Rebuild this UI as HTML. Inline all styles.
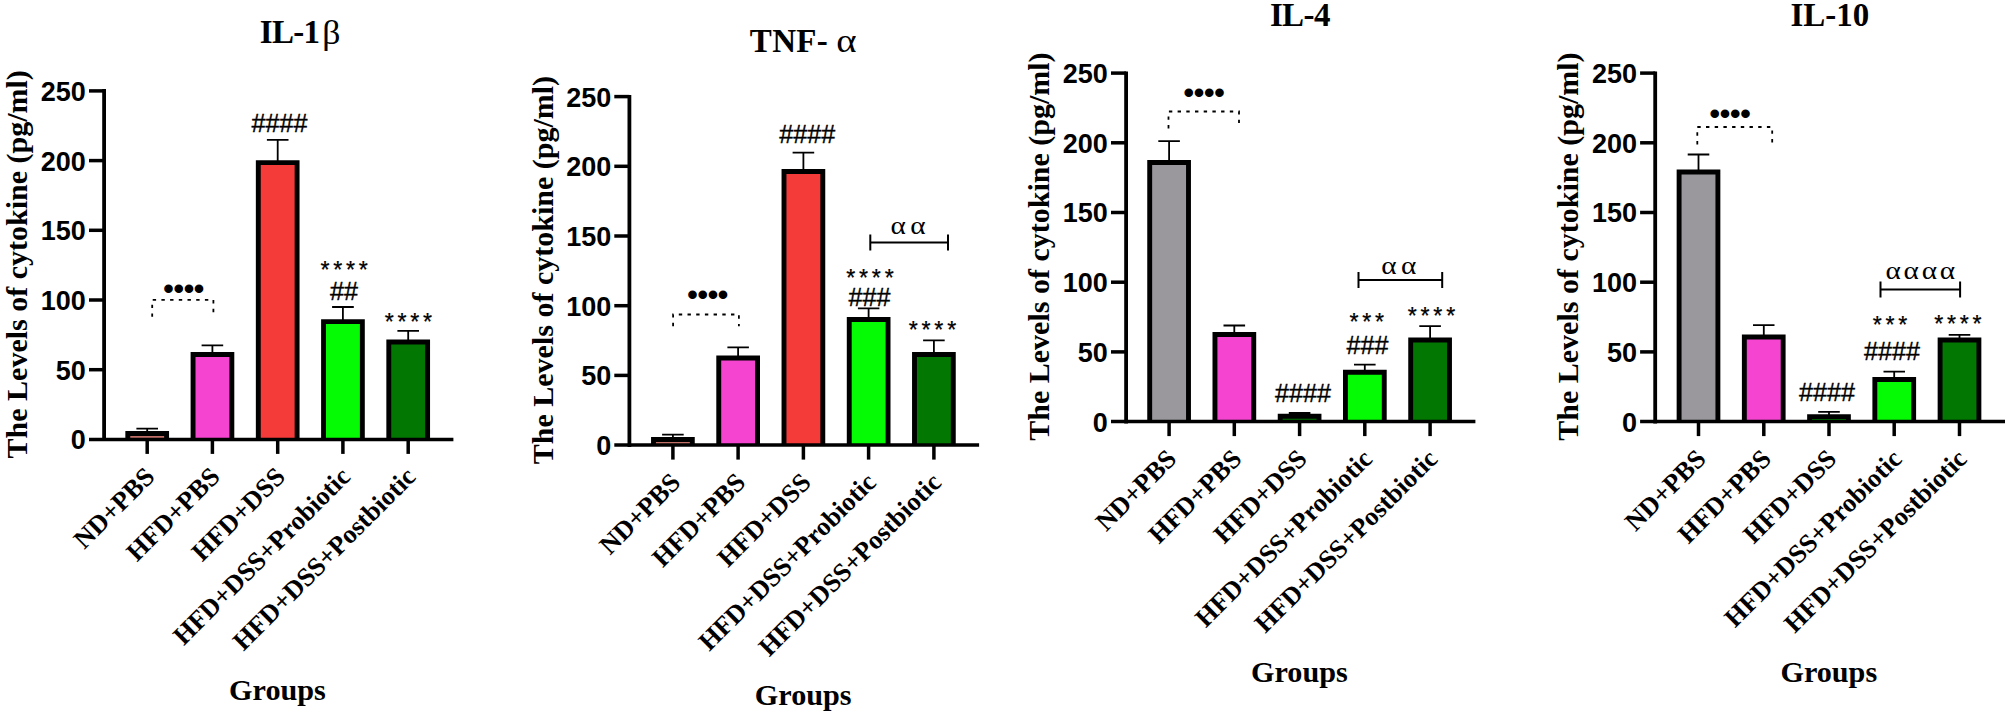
<!DOCTYPE html>
<html><head><meta charset="utf-8"><title>Cytokine levels</title>
<style>
html,body{margin:0;padding:0;background:#fff}
svg{display:block}
text{fill:#000}
.ttl{font:bold 33px "Liberation Serif","DejaVu Serif",serif}
.gk{font-weight:normal}
.it{font-style:italic}
.ylab{font:bold 30px "Liberation Serif","DejaVu Serif",serif}
.grp{font:bold 30.2px "Liberation Serif","DejaVu Serif",serif}
.xlab{font:bold 26.4px "Liberation Serif","DejaVu Serif",serif}
.tick{font:bold 27px "Liberation Sans","DejaVu Sans",sans-serif}
.hash{font:25.2px "Liberation Sans","DejaVu Sans",sans-serif;stroke:#000;stroke-width:.35px}
.star{font:23.2px "Liberation Sans","DejaVu Sans",sans-serif;letter-spacing:3.75px;stroke:#000;stroke-width:.25px}
.alpha{font:24px "Liberation Serif","DejaVu Serif",serif}
.dots{font:bold 30px "Liberation Sans","DejaVu Sans",sans-serif;letter-spacing:-.3px}
.axis{stroke:#000;stroke-width:3.5;fill:none}
.yaxis{stroke:#000;stroke-width:3.8;fill:none}
.bar{stroke:#000;stroke-width:4.9}
.err{stroke:#000;stroke-width:1.8;fill:none}
.br{stroke:#000;stroke-width:2;fill:none}
.dbr{stroke:#000;stroke-width:1.8;fill:none;stroke-dasharray:3.4 5.3}
</style></head>
<body>
<svg width="2007" height="715" viewBox="0 0 2007 715">
<rect width="2007" height="715" fill="#fff"/>
<g class="panel">
<text x="259.8" y="43.4" class="ttl"><tspan textLength="60.3" lengthAdjust="spacing">IL-1</tspan><tspan class="gk" x="322.2" y="44.4" textLength="18.2" lengthAdjust="spacingAndGlyphs">β</tspan></text>
<text transform="translate(27.2,264.3) rotate(-90)" class="ylab" text-anchor="middle">The Levels of cytokine (pg/ml)</text>
<path d="M147.2 432.1V428.6M136.4 428.6H158.0" class="err"/>
<path d="M127.80 439.4V433.55H166.60V439.4" fill="#c26f67" class="bar"/>
<path d="M212.4 353.0V345.3M201.6 345.3H223.2" class="err"/>
<path d="M193.05 439.4V354.45H231.85V439.4" fill="#f545d0" class="bar"/>
<path d="M277.7 161.2V139.9M266.9 139.9H288.5" class="err"/>
<path d="M258.30 439.4V162.65H297.10V439.4" fill="#f53a3a" class="bar"/>
<path d="M342.9 320.2V307.0M332.1 307.0H353.8" class="err"/>
<path d="M323.55 439.4V321.65H362.35V439.4" fill="#04fb04" class="bar"/>
<path d="M408.2 340.5V330.8M397.4 330.8H419.0" class="err"/>
<path d="M388.80 439.4V341.95H427.60V439.4" fill="#027802" class="bar"/>
<path d="M104.1 89.1V441.1" class="yaxis"/>
<path d="M89.0 439.4H453.4" class="axis"/>
<text x="85.9" y="449.3" class="tick" text-anchor="end">0</text>
<path d="M89.0 369.7H104.1" class="axis"/>
<text x="85.9" y="379.6" class="tick" text-anchor="end">50</text>
<path d="M89.0 300.0H104.1" class="axis"/>
<text x="85.9" y="309.9" class="tick" text-anchor="end">100</text>
<path d="M89.0 230.3H104.1" class="axis"/>
<text x="85.9" y="240.2" class="tick" text-anchor="end">150</text>
<path d="M89.0 160.6H104.1" class="axis"/>
<text x="85.9" y="170.5" class="tick" text-anchor="end">200</text>
<path d="M89.0 90.9H104.1" class="axis"/>
<text x="85.9" y="100.8" class="tick" text-anchor="end">250</text>
<path d="M147.2 439.4V453.9" class="axis"/>
<path d="M212.4 439.4V453.9" class="axis"/>
<path d="M277.7 439.4V453.9" class="axis"/>
<path d="M342.9 439.4V453.9" class="axis"/>
<path d="M408.2 439.4V453.9" class="axis"/>
<text transform="translate(156.1,478.2) rotate(-45)" class="xlab" text-anchor="end">ND+PBS</text>
<text transform="translate(221.3,478.2) rotate(-45)" class="xlab" text-anchor="end">HFD+PBS</text>
<text transform="translate(286.6,478.2) rotate(-45)" class="xlab" text-anchor="end">HFD+DSS</text>
<text transform="translate(351.8,478.2) rotate(-45)" class="xlab" text-anchor="end">HFD+DSS+Probiotic</text>
<text transform="translate(417.1,478.2) rotate(-45)" class="xlab" text-anchor="end">HFD+DSS+Postbiotic</text>
<text x="277.5" y="699.6" class="grp" text-anchor="middle">Groups</text>
<text x="183.65" y="299.2" class="dots" text-anchor="middle">••••</text>
<path d="M152.2 316.8V299.9H213.4V312.2" class="dbr"/>
<text x="279.6" y="132.4" class="hash" text-anchor="middle">####</text>
<text x="346.07" y="278.1" class="star" text-anchor="middle">****</text>
<text x="344" y="300" class="hash" text-anchor="middle">##</text>
<text x="410.18" y="329.9" class="star" text-anchor="middle">****</text>
</g>
<g class="panel">
<text x="749.8" y="52" class="ttl"><tspan textLength="86.6" lengthAdjust="spacing">TNF- </tspan><tspan class="gk" x="836.2" y="52.4" style="font-size:34px" textLength="20.3" lengthAdjust="spacingAndGlyphs">α</tspan></text>
<text transform="translate(552.5,270.1) rotate(-90)" class="ylab" text-anchor="middle">The Levels of cytokine (pg/ml)</text>
<path d="M672.9 438.0V434.6M662.1 434.6H683.7" class="err"/>
<path d="M653.50 445.1V439.45H692.30V445.1" fill="#c26f67" class="bar"/>
<path d="M738.1 356.6V347.3M727.4 347.3H748.9" class="err"/>
<path d="M718.75 445.1V358.05H757.55V445.1" fill="#f545d0" class="bar"/>
<path d="M803.4 170.1V152.7M792.6 152.7H814.2" class="err"/>
<path d="M784.00 445.1V171.55H822.80V445.1" fill="#f53a3a" class="bar"/>
<path d="M868.6 318.1V308.4M857.9 308.4H879.4" class="err"/>
<path d="M849.25 445.1V319.55H888.05V445.1" fill="#04fb04" class="bar"/>
<path d="M933.9 353.0V340.4M923.1 340.4H944.7" class="err"/>
<path d="M914.50 445.1V354.45H953.30V445.1" fill="#027802" class="bar"/>
<path d="M629.4 94.9V446.9" class="yaxis"/>
<path d="M614.3 445.1H979.1" class="axis"/>
<text x="611.2" y="455.0" class="tick" text-anchor="end">0</text>
<path d="M614.3 375.4H629.4" class="axis"/>
<text x="611.2" y="385.3" class="tick" text-anchor="end">50</text>
<path d="M614.3 305.7H629.4" class="axis"/>
<text x="611.2" y="315.6" class="tick" text-anchor="end">100</text>
<path d="M614.3 236.0H629.4" class="axis"/>
<text x="611.2" y="245.9" class="tick" text-anchor="end">150</text>
<path d="M614.3 166.3H629.4" class="axis"/>
<text x="611.2" y="176.2" class="tick" text-anchor="end">200</text>
<path d="M614.3 96.6H629.4" class="axis"/>
<text x="611.2" y="106.5" class="tick" text-anchor="end">250</text>
<path d="M672.9 445.1V459.6" class="axis"/>
<path d="M738.1 445.1V459.6" class="axis"/>
<path d="M803.4 445.1V459.6" class="axis"/>
<path d="M868.6 445.1V459.6" class="axis"/>
<path d="M933.9 445.1V459.6" class="axis"/>
<text transform="translate(681.8,483.9) rotate(-45)" class="xlab" text-anchor="end">ND+PBS</text>
<text transform="translate(747.0,483.9) rotate(-45)" class="xlab" text-anchor="end">HFD+PBS</text>
<text transform="translate(812.3,483.9) rotate(-45)" class="xlab" text-anchor="end">HFD+DSS</text>
<text transform="translate(877.5,483.9) rotate(-45)" class="xlab" text-anchor="end">HFD+DSS+Probiotic</text>
<text transform="translate(942.8,483.9) rotate(-45)" class="xlab" text-anchor="end">HFD+DSS+Postbiotic</text>
<text x="803.2" y="705.3" class="grp" text-anchor="middle">Groups</text>
<text x="707.65" y="305.2" class="dots" text-anchor="middle">••••</text>
<path d="M673.1 326.2V314.5H738.9V326.2" class="dbr"/>
<text x="807.2" y="142.5" class="hash" text-anchor="middle">####</text>
<text x="871.88" y="285.7" class="star" text-anchor="middle">****</text>
<text x="869.6" y="305.5" class="hash" text-anchor="middle">###</text>
<text x="934.38" y="338.3" class="star" text-anchor="middle">****</text>
<path d="M870.3 242.5H948M870.3 234.5V250.5M948 234.5V250.5" class="br"/>
<text transform="translate(908.1,234.2) scale(1.22,1.045)" x="1.775" y="0" class="alpha" text-anchor="middle" style="letter-spacing:3.55px">αα</text>
</g>
<g class="panel">
<text x="1269.9" y="26" class="ttl" textLength="60.5" lengthAdjust="spacing">IL-4</text>
<text transform="translate(1049.2,246.6) rotate(-90)" class="ylab" text-anchor="middle">The Levels of cytokine (pg/ml)</text>
<path d="M1169.1 161.0V141.2M1158.3 141.2H1179.9" class="err"/>
<path d="M1149.70 421.6V162.45H1188.50V421.6" fill="#9a989d" class="bar"/>
<path d="M1234.3 333.0V325.5M1223.5 325.5H1245.1" class="err"/>
<path d="M1214.95 421.6V334.45H1253.75V421.6" fill="#f545d0" class="bar"/>
<path d="M1299.6 414.8V413.0M1288.8 413.0H1310.4" class="err"/>
<path d="M1280.20 421.6V416.25H1319.00V421.6" fill="#027802" class="bar"/>
<path d="M1364.8 370.8V364.7M1354.0 364.7H1375.6" class="err"/>
<path d="M1345.45 421.6V372.25H1384.25V421.6" fill="#04fb04" class="bar"/>
<path d="M1430.1 338.5V326.2M1419.3 326.2H1440.9" class="err"/>
<path d="M1410.70 421.6V339.95H1449.50V421.6" fill="#027802" class="bar"/>
<path d="M1126.1 71.4V423.4" class="yaxis"/>
<path d="M1111.0 421.6H1475.4" class="axis"/>
<text x="1107.9" y="431.5" class="tick" text-anchor="end">0</text>
<path d="M1111.0 351.9H1126.1" class="axis"/>
<text x="1107.9" y="361.8" class="tick" text-anchor="end">50</text>
<path d="M1111.0 282.2H1126.1" class="axis"/>
<text x="1107.9" y="292.1" class="tick" text-anchor="end">100</text>
<path d="M1111.0 212.5H1126.1" class="axis"/>
<text x="1107.9" y="222.4" class="tick" text-anchor="end">150</text>
<path d="M1111.0 142.8H1126.1" class="axis"/>
<text x="1107.9" y="152.7" class="tick" text-anchor="end">200</text>
<path d="M1111.0 73.1H1126.1" class="axis"/>
<text x="1107.9" y="83.0" class="tick" text-anchor="end">250</text>
<path d="M1169.1 421.6V436.1" class="axis"/>
<path d="M1234.3 421.6V436.1" class="axis"/>
<path d="M1299.6 421.6V436.1" class="axis"/>
<path d="M1364.8 421.6V436.1" class="axis"/>
<path d="M1430.1 421.6V436.1" class="axis"/>
<text transform="translate(1178.0,460.4) rotate(-45)" class="xlab" text-anchor="end">ND+PBS</text>
<text transform="translate(1243.2,460.4) rotate(-45)" class="xlab" text-anchor="end">HFD+PBS</text>
<text transform="translate(1308.5,460.4) rotate(-45)" class="xlab" text-anchor="end">HFD+DSS</text>
<text transform="translate(1373.8,460.4) rotate(-45)" class="xlab" text-anchor="end">HFD+DSS+Probiotic</text>
<text transform="translate(1439.0,460.4) rotate(-45)" class="xlab" text-anchor="end">HFD+DSS+Postbiotic</text>
<text x="1299.4" y="681.8" class="grp" text-anchor="middle">Groups</text>
<text x="1203.9499999999998" y="103.2" class="dots" text-anchor="middle">••••</text>
<path d="M1168.5 128.5V111.5H1239V124.1" class="dbr"/>
<text x="1303" y="401.8" class="hash" text-anchor="middle">####</text>
<text x="1368.58" y="330.2" class="star" text-anchor="middle">***</text>
<text x="1367.5" y="354.1" class="hash" text-anchor="middle">###</text>
<text x="1433.38" y="323.6" class="star" text-anchor="middle">****</text>
<path d="M1358.5 280H1442.2M1358.5 272V288M1442.2 272V288" class="br"/>
<text transform="translate(1398.7,273.5) scale(1.22,1.045)" x="1.775" y="0" class="alpha" text-anchor="middle" style="letter-spacing:3.55px">αα</text>
</g>
<g class="panel">
<text x="1790.5" y="26" class="ttl">IL-10</text>
<text transform="translate(1578.3,246.6) rotate(-90)" class="ylab" text-anchor="middle">The Levels of cytokine (pg/ml)</text>
<path d="M1698.5 170.5V154.5M1687.7 154.5H1709.3" class="err"/>
<path d="M1679.10 421.6V171.95H1717.90V421.6" fill="#9a989d" class="bar"/>
<path d="M1763.8 335.5V325.1M1753.0 325.1H1774.5" class="err"/>
<path d="M1744.35 421.6V336.95H1783.15V421.6" fill="#f545d0" class="bar"/>
<path d="M1829.0 415.2V411.8M1818.2 411.8H1839.8" class="err"/>
<path d="M1809.60 421.6V416.65H1848.40V421.6" fill="#027802" class="bar"/>
<path d="M1894.2 378.1V371.6M1883.5 371.6H1905.0" class="err"/>
<path d="M1874.85 421.6V379.55H1913.65V421.6" fill="#04fb04" class="bar"/>
<path d="M1959.5 338.5V334.9M1948.7 334.9H1970.3" class="err"/>
<path d="M1940.10 421.6V339.95H1978.90V421.6" fill="#027802" class="bar"/>
<path d="M1655.2 71.4V423.4" class="yaxis"/>
<path d="M1640.1 421.6H2005.0" class="axis"/>
<text x="1637.0" y="431.5" class="tick" text-anchor="end">0</text>
<path d="M1640.1 351.9H1655.2" class="axis"/>
<text x="1637.0" y="361.8" class="tick" text-anchor="end">50</text>
<path d="M1640.1 282.2H1655.2" class="axis"/>
<text x="1637.0" y="292.1" class="tick" text-anchor="end">100</text>
<path d="M1640.1 212.5H1655.2" class="axis"/>
<text x="1637.0" y="222.4" class="tick" text-anchor="end">150</text>
<path d="M1640.1 142.8H1655.2" class="axis"/>
<text x="1637.0" y="152.7" class="tick" text-anchor="end">200</text>
<path d="M1640.1 73.1H1655.2" class="axis"/>
<text x="1637.0" y="83.0" class="tick" text-anchor="end">250</text>
<path d="M1698.5 421.6V436.1" class="axis"/>
<path d="M1763.8 421.6V436.1" class="axis"/>
<path d="M1829.0 421.6V436.1" class="axis"/>
<path d="M1894.2 421.6V436.1" class="axis"/>
<path d="M1959.5 421.6V436.1" class="axis"/>
<text transform="translate(1707.4,460.4) rotate(-45)" class="xlab" text-anchor="end">ND+PBS</text>
<text transform="translate(1772.7,460.4) rotate(-45)" class="xlab" text-anchor="end">HFD+PBS</text>
<text transform="translate(1837.9,460.4) rotate(-45)" class="xlab" text-anchor="end">HFD+DSS</text>
<text transform="translate(1903.2,460.4) rotate(-45)" class="xlab" text-anchor="end">HFD+DSS+Probiotic</text>
<text transform="translate(1968.4,460.4) rotate(-45)" class="xlab" text-anchor="end">HFD+DSS+Postbiotic</text>
<text x="1828.8" y="681.8" class="grp" text-anchor="middle">Groups</text>
<text x="1729.9499999999998" y="123.7" class="dots" text-anchor="middle">••••</text>
<path d="M1697.3 144.4V127H1772.2V142.5" class="dbr"/>
<text x="1827" y="400.7" class="hash" text-anchor="middle">####</text>
<text x="1891.97" y="333.2" class="star" text-anchor="middle">***</text>
<text x="1892" y="359.6" class="hash" text-anchor="middle">####</text>
<text x="1959.78" y="331.8" class="star" text-anchor="middle">****</text>
<path d="M1880.5 289.6H1960.1M1880.5 281.6V297.6M1960.1 281.6V297.6" class="br"/>
<text transform="translate(1920.3,278.9) scale(1.22,1.045)" x="1.15" y="0" class="alpha" text-anchor="middle" style="letter-spacing:2.3px">αααα</text>
</g>
</svg>
</body></html>
